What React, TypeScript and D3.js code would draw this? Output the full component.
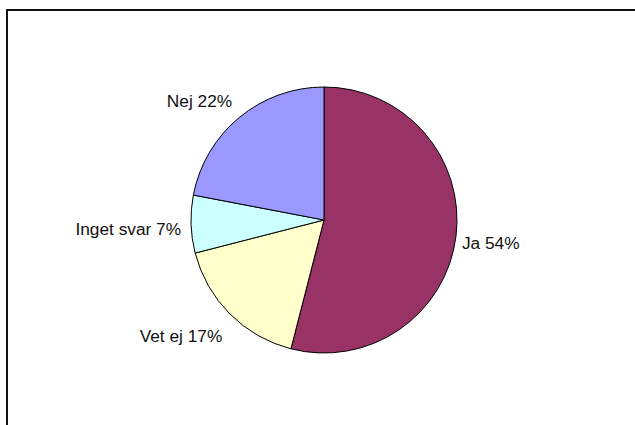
import * as d3 from 'd3';
import React from 'react';

// answers, clockwise from 12 o'clock
const categories = ['Ja', 'Vet ej', 'Inget svar', 'Nej'];
const shares = [54, 17, 7, 22];
const colors = ['#993366', '#FFFFCC', '#CCFFFF', '#9999FF'];

const width = 635;
const height = 425;
const cx = 324;
const cy = 220;
const radius = 133;

export default function App() {
  const data = categories.map((c, i) => ({ label: c, value: shares[i], color: colors[i] }));
  const pie = d3.pie<any>().sort(null).value((d) => d.value);
  const arcs = pie(data);
  const arc = d3.arc<any>().innerRadius(0).outerRadius(radius);

  return (
    <div style={{ position: 'absolute', left: 0, top: 0 }}>
      <svg width={width} height={height} style={{ display: 'block', background: '#fff' }}>
        {/* chart area border, runs off the page right and bottom */}
        <rect x={7} y={10} width={700} height={500} fill="none" stroke="#111" strokeWidth={2} />
        <g transform={'translate(' + cx + ',' + cy + ')'}>
          {arcs.map((a, i) => (
            <path key={i} d={arc(a) || ''} fill={a.data.color} stroke="#000" strokeWidth={1} />
          ))}
          {arcs.map((a, i) => {
            const mid = (a.startAngle + a.endAngle) / 2;
            const s = Math.sin(mid);
            const c = Math.cos(mid);
            // labels sit just outside the rim, pushed away vertically like Excel does
            const px = s * (radius + 8) - 2;
            const py = -c * (radius + 8) + 3.5 - 18 * c;
            return (
              <text
                key={'l' + i}
                x={px}
                y={py}
                dy="0.35em"
                textAnchor={s >= 0 ? 'start' : 'end'}
                fontFamily="'Liberation Sans', Arial, sans-serif"
                fontSize={17.3}
                fill="#111"
              >
                {a.data.label + ' ' + a.data.value + '%'}
              </text>
            );
          })}
        </g>
      </svg>
    </div>
  );
}
